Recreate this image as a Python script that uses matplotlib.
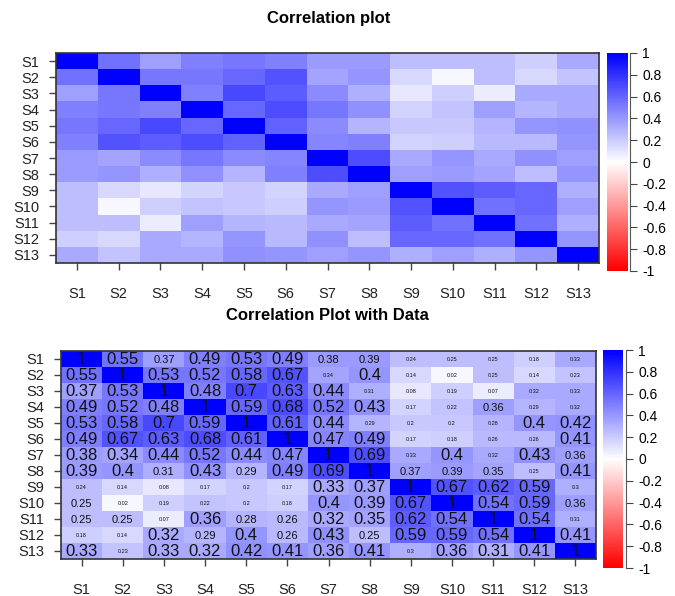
import numpy as np
import matplotlib
matplotlib.use("Agg")
import matplotlib.pyplot as plt
from matplotlib.colors import LinearSegmentedColormap

plt.rcParams['font.family'] = ['Liberation Sans', 'DejaVu Sans']
plt.rcParams['axes.unicode_minus'] = False

# 変数名
labels = ["S%d" % i for i in range(1, 14)]

# 相関行列
corr = np.array([
    [1.00, 0.55, 0.37, 0.49, 0.53, 0.49, 0.38, 0.39, 0.24, 0.25, 0.25, 0.18, 0.33],
    [0.55, 1.00, 0.53, 0.52, 0.58, 0.67, 0.34, 0.40, 0.14, 0.02, 0.25, 0.14, 0.23],
    [0.37, 0.53, 1.00, 0.48, 0.70, 0.63, 0.44, 0.31, 0.08, 0.19, 0.07, 0.32, 0.33],
    [0.49, 0.52, 0.48, 1.00, 0.59, 0.68, 0.52, 0.43, 0.17, 0.22, 0.36, 0.29, 0.32],
    [0.53, 0.58, 0.70, 0.59, 1.00, 0.61, 0.44, 0.29, 0.20, 0.20, 0.28, 0.40, 0.42],
    [0.49, 0.67, 0.63, 0.68, 0.61, 1.00, 0.47, 0.49, 0.17, 0.18, 0.26, 0.26, 0.41],
    [0.38, 0.34, 0.44, 0.52, 0.44, 0.47, 1.00, 0.69, 0.33, 0.40, 0.32, 0.43, 0.36],
    [0.39, 0.40, 0.31, 0.43, 0.29, 0.49, 0.69, 1.00, 0.37, 0.39, 0.35, 0.25, 0.41],
    [0.24, 0.14, 0.08, 0.17, 0.20, 0.17, 0.33, 0.37, 1.00, 0.67, 0.62, 0.59, 0.30],
    [0.25, 0.02, 0.19, 0.22, 0.20, 0.18, 0.40, 0.39, 0.67, 1.00, 0.54, 0.59, 0.36],
    [0.25, 0.25, 0.07, 0.36, 0.28, 0.26, 0.32, 0.35, 0.62, 0.54, 1.00, 0.54, 0.31],
    [0.18, 0.14, 0.32, 0.29, 0.40, 0.26, 0.43, 0.25, 0.59, 0.59, 0.54, 1.00, 0.41],
    [0.33, 0.23, 0.33, 0.32, 0.42, 0.41, 0.36, 0.41, 0.30, 0.36, 0.31, 0.41, 1.00],
])

# カラーバーの目盛り
cbar_ticks = [-1, -0.8, -0.6, -0.4, -0.2, 0, 0.2, 0.4, 0.6, 0.8, 1]

# 数値ラベルの文字サイズ (L=大, M=中, S=小)
text_size = [
    "LLMLLLMMSSSSS",
    "LLLLLLSLSSSSS",
    "LLLLLLLSSSSSS",
    "LLLLLLLLSSMSS",
    "LLLLLLLSSSSLL",
    "LLLLLLLLSSSSL",
    "LLLLLLLLSLSLM",
    "LLMLMLLLMMMSL",
    "SSSSSSLLLLLLS",
    "MSSSSSLLLLLLM",
    "MMSLMMLLLLLLS",
    "SSLMLMLMLLLLL",
    "LSLLLLLLSLLLL",
]
size_map = {"L": 12, "M": 8, "S": 4}

cmap = LinearSegmentedColormap.from_list("rwb", ["red", "white", "blue"], N=100)

W, H = 675, 596
fig = plt.figure(figsize=(W / 100, H / 100), dpi=100)

def px_axes(x0, y0, x1, y1):
    return fig.add_axes([x0 / W, 1 - y1 / H, (x1 - x0) / W, (y1 - y0) / H])

def heatmap(ax, show_values):
    n = len(labels)
    ax.imshow(corr, cmap=cmap, vmin=-1, vmax=1, aspect="auto",
              interpolation="nearest")
    ax.set_xticks(range(n))
    ax.set_xticklabels(labels, fontsize=10.5, color="#222222")
    ax.set_yticks(range(n))
    ax.set_yticklabels(labels, fontsize=10.5, color="#222222")
    ax.tick_params(length=5, width=1, color="#444444", pad=7)
    ax.tick_params(axis="x", pad=12)
    for s in ax.spines.values():
        s.set_color("#333333")
        s.set_linewidth(1.2)
    if show_values:
        for i in range(n):
            for j in range(n):
                txt = "%g" % corr[i, j]
                ax.text(j, i + 0.05, txt, ha="center", va="center",
                        fontsize=size_map[text_size[i][j]], color="#111111")

def colorbar(ax):
    grad = np.linspace(-1, 1, 200).reshape(-1, 1)
    ax.imshow(grad, cmap=cmap, vmin=-1, vmax=1, aspect="auto",
              origin="lower", extent=[0, 1, -1, 1])
    ax.set_xticks([])
    ax.set_yticks(cbar_ticks)
    ax.set_yticklabels([str(t) for t in cbar_ticks], fontsize=10.5, color="#222222")
    ax.yaxis.tick_right()
    ax.tick_params(length=5, color="#444444", pad=4)
    for k in ["top", "bottom", "left"]:
        ax.spines[k].set_visible(False)
    ax.spines["right"].set_color("#555555")
    ax.spines["right"].set_position(("outward", 2))

# 上段: 相関プロット
ax1 = px_axes(56, 53, 599, 263)
heatmap(ax1, False)
cb1 = px_axes(607, 53, 627, 271)
colorbar(cb1)
fig.text(329 / W, 1 - 18 / H, "Correlation plot", ha="center", va="center",
         fontsize=12, fontweight="bold")

# 下段: 数値付き相関プロット
ax2 = px_axes(61, 351, 596, 559)
heatmap(ax2, True)
cb2 = px_axes(603, 350, 623, 568)
colorbar(cb2)
fig.text(327 / W, 1 - 315 / H, "Correlation Plot with Data", ha="center",
         va="center", fontsize=12, fontweight="bold")

fig.savefig("out.png", dpi=100)
